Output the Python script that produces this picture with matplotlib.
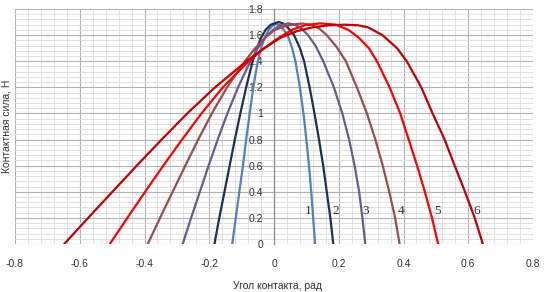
"""
Контактная сила в зависимости от угла контакта: шесть кривых, подписанных 1–6.
Сохраняет out.png (544x292).
"""
import matplotlib
matplotlib.use('Agg')
from matplotlib import pyplot as plt
from matplotlib.ticker import MultipleLocator

# кривые: угол (рад) и сила (Н)
angle_1 = [-0.129, -0.118, -0.107, -0.096, -0.086, -0.075, -0.064, -0.050, -0.040, -0.029,
           -0.016, -0.003, 0.008, 0.018, 0.030, 0.042, 0.056, 0.066, 0.080, 0.091,
           0.100, 0.108, 0.115, 0.121, 0.127]
force_1 = [0.0, 0.2, 0.4, 0.6, 0.8, 1.0, 1.2, 1.4, 1.5, 1.58,
           1.64, 1.675, 1.685, 1.675, 1.64, 1.6, 1.5, 1.4, 1.2, 1.0,
           0.8, 0.6, 0.4, 0.2, 0.0]

angle_2 = [-0.184, -0.169, -0.153, -0.137, -0.121, -0.104, -0.086, -0.066, -0.053, -0.040,
           -0.026, -0.010, 0.014, 0.028, 0.042, 0.062, 0.080, 0.093, 0.110, 0.125,
           0.139, 0.152, 0.163, 0.174, 0.183]
force_2 = [0.0, 0.2, 0.4, 0.6, 0.8, 1.0, 1.2, 1.4, 1.5, 1.58,
           1.64, 1.68, 1.70, 1.69, 1.66, 1.6, 1.5, 1.4, 1.2, 1.0,
           0.8, 0.6, 0.4, 0.2, 0.0]

angle_3 = [-0.282, -0.256, -0.229, -0.202, -0.174, -0.144, -0.111, -0.073, -0.050, -0.027,
           -0.003, 0.020, 0.044, 0.065, 0.085, 0.105, 0.128, 0.152, 0.185, 0.211,
           0.232, 0.249, 0.263, 0.273, 0.282]
force_3 = [0.0, 0.2, 0.4, 0.6, 0.8, 1.0, 1.2, 1.4, 1.5, 1.58,
           1.64, 1.675, 1.69, 1.68, 1.65, 1.6, 1.52, 1.4, 1.2, 1.0,
           0.8, 0.6, 0.4, 0.2, 0.0]

angle_4 = [-0.390, -0.352, -0.313, -0.274, -0.234, -0.192, -0.145, -0.090, -0.058, -0.028,
           0.003, 0.035, 0.070, 0.090, 0.115, 0.140, 0.163, 0.193, 0.222, 0.256,
           0.287, 0.313, 0.336, 0.356, 0.374, 0.388]
force_4 = [0.0, 0.2, 0.4, 0.6, 0.8, 1.0, 1.2, 1.4, 1.5, 1.58,
           1.64, 1.67, 1.685, 1.688, 1.68, 1.65, 1.6, 1.51, 1.4, 1.2,
           1.0, 0.8, 0.6, 0.4, 0.2, 0.0]

angle_5 = [-0.507, -0.453, -0.398, -0.342, -0.284, -0.224, -0.158, -0.078, -0.030, 0.015,
           0.055, 0.095, 0.142, 0.190, 0.230, 0.262, 0.293, 0.318, 0.357, 0.390,
           0.416, 0.442, 0.466, 0.488, 0.507]
force_5 = [0.0, 0.2, 0.4, 0.6, 0.8, 1.0, 1.2, 1.4, 1.5, 1.58,
           1.64, 1.675, 1.69, 1.68, 1.64, 1.58, 1.5, 1.4, 1.2, 1.0,
           0.8, 0.6, 0.4, 0.2, 0.0]

angle_6 = [-0.648, -0.574, -0.499, -0.424, -0.347, -0.268, -0.182, -0.085, -0.030, 0.020,
           0.070, 0.120, 0.170, 0.220, 0.260, 0.290, 0.335, 0.380, 0.410, 0.455,
           0.490, 0.527, 0.558, 0.590, 0.620, 0.645]
force_6 = [0.0, 0.2, 0.4, 0.6, 0.8, 1.0, 1.2, 1.4, 1.5, 1.58,
           1.63, 1.66, 1.675, 1.68, 1.675, 1.66, 1.6, 1.5, 1.4, 1.2,
           1.0, 0.8, 0.6, 0.4, 0.2, 0.0]

curve_labels = ['1', '2', '3', '4', '5', '6']
label_angles = [0.107, 0.191, 0.284, 0.392, 0.506, 0.627]
label_force = 0.25

colors = ['#4f81bd', '#1c3150', '#6a5a8e', '#9b4b4b', '#ff0000', '#c00000']

plt.rcParams['font.family'] = ['Liberation Sans', 'DejaVu Sans']

fig = plt.figure(figsize=(5.44, 2.92), dpi=100)
ax = fig.add_axes([15 / 544, 48 / 292, 518 / 544, 235 / 292])

curves = [(angle_1, force_1), (angle_2, force_2), (angle_3, force_3),
          (angle_4, force_4), (angle_5, force_5), (angle_6, force_6)]
for (xs, ys), c in zip(curves, colors):
    ax.plot(xs, ys, color=c, lw=1.6, solid_capstyle='round', solid_joinstyle='round', zorder=3)

for lab, xa in zip(curve_labels, label_angles):
    ax.text(xa, label_force, lab, family='Liberation Serif', fontsize=9.5,
            ha='center', va='center', color='#333333', zorder=4)

ax.set_xlim(-0.8, 0.8)
ax.set_ylim(0, 1.8)
ax.xaxis.set_major_locator(MultipleLocator(0.2))
ax.xaxis.set_minor_locator(MultipleLocator(0.04))
ax.yaxis.set_major_locator(MultipleLocator(0.2))
ax.yaxis.set_minor_locator(MultipleLocator(0.04))
ax.grid(which='major', color='#b3b3b3', lw=0.8)
ax.grid(which='minor', color='#dcdcdc', lw=0.6)
ax.set_axisbelow(True)

for side in ['top', 'right', 'bottom']:
    ax.spines[side].set_visible(False)
ax.spines['left'].set_position(('data', 0))
ax.spines['left'].set_color('#8c8c8c')
ax.spines['left'].set_linewidth(0.9)

ax.set_xticks([-0.8, -0.6, -0.4, -0.2, 0, 0.2, 0.4, 0.6, 0.8])
ax.set_xticklabels(['-0.8', '-0.6', '-0.4', '-0.2', '0', '0.2', '0.4', '0.6', '0.8'])
ax.set_yticks([0, 0.2, 0.4, 0.6, 0.8, 1, 1.2, 1.4, 1.6, 1.8])
ax.set_yticklabels(['0', '0.2', '0.4', '0.6', '0.8', '1', '1.2', '1.4', '1.6', '1.8'])
ax.tick_params(which='both', length=0)
ax.tick_params(axis='x', pad=11, labelsize=7.5, labelcolor='#333333')
ax.tick_params(axis='y', pad=8, labelsize=7.5, labelcolor='#333333')

fig.text(277 / 544, 1 - 286 / 292, 'Угол контакта, рад', ha='center', va='center',
         fontsize=7.5, color='#333333')
fig.text(7 / 544, 1 - 126 / 292, 'Контактная сила, Н', ha='center', va='center',
         rotation=90, fontsize=7.5, color='#333333')

fig.savefig('out.png', dpi=100)
